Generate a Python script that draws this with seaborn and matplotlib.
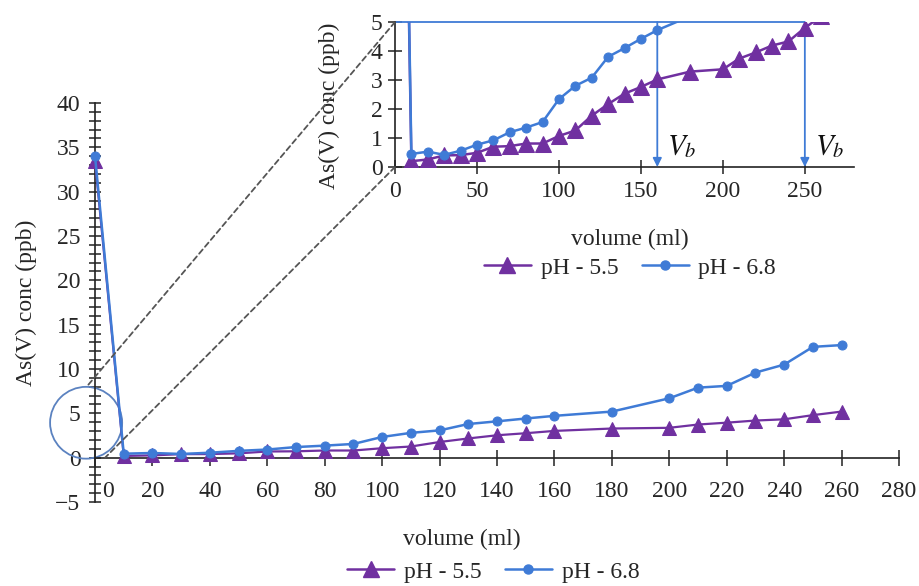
import numpy as np
import pandas as pd
import seaborn as sns
import matplotlib
matplotlib.use("Agg")
import matplotlib.pyplot as plt
from matplotlib.lines import Line2D
from matplotlib.patches import Ellipse, ConnectionPatch
from matplotlib.transforms import ScaledTranslation

# ---- data ----
volume = [0, 10, 20, 30, 40, 50, 60, 70, 80, 90, 100, 110, 120, 130, 140, 150,
          160, 180, 200, 210, 220, 230, 240, 250, 260]
ph55 = [33.5, 0.20, 0.26, 0.40, 0.41, 0.49, 0.70, 0.72, 0.81, 0.81, 1.07, 1.26,
        1.77, 2.17, 2.53, 2.76, 3.02, 3.29, 3.37, 3.74, 3.95, 4.19, 4.33, 4.80, 5.20]
ph68 = [34.0, 0.45, 0.53, 0.42, 0.56, 0.77, 0.92, 1.20, 1.36, 1.55, 2.34, 2.80,
        3.08, 3.80, 4.10, 4.42, 4.72, 5.20, 6.70, 7.90, 8.10, 9.60, 10.50, 12.50, 12.70]
series_labels = ["pH - 5.5", "pH - 6.8"]
vb_values = [160, 250]
main_xticks = list(range(0, 281, 20))
main_yticks = list(range(-5, 41, 5))
inset_xticks = list(range(0, 251, 50))
inset_yticks = list(range(0, 6, 1))

df = pd.DataFrame({"volume": volume, "ph55": ph55, "ph68": ph68})

PURPLE = "#7030a0"
BLUE = "#3f7bd6"
CIRCLE = "#5b82c0"

sns.set_theme(style="white")
plt.rcParams["font.family"] = ["Liberation Serif", "DejaVu Serif"]
plt.rcParams["mathtext.fontset"] = "stix"

FS = 17
fig = plt.figure(figsize=(9.19, 5.86), dpi=100)

# ---------------- main axes ----------------
ax = fig.add_axes([0.1034, 0.1433, 0.8749, 0.6809])
sns.lineplot(data=df, x="volume", y="ph55", ax=ax, color=PURPLE, marker="^",
             markersize=10, markeredgecolor=PURPLE, lw=1.6, legend=False, zorder=3)
sns.lineplot(data=df, x="volume", y="ph68", ax=ax, color=BLUE, marker="o",
             markersize=6.5, markeredgecolor=BLUE, lw=1.8, legend=False, zorder=4)
for ln in ax.lines:
    ln.set_clip_on(False)
ax.set_xlim(0, 280)
ax.set_ylim(-5, 40)
for s in ["top", "right"]:
    ax.spines[s].set_visible(False)
ax.spines["left"].set_position(("data", 0))
ax.spines["bottom"].set_position(("data", 0))
for s in ["left", "bottom"]:
    ax.spines[s].set_color("#222222")
    ax.spines[s].set_linewidth(1.2)
ax.set_xticks(main_xticks)
ax.set_xticklabels([str(v) for v in main_xticks])
ax.set_yticks(main_yticks)
ax.set_yticklabels([str(v).replace("-", "\u2212") for v in main_yticks])
ax.set_yticks(range(-5, 41, 1), minor=True)
ax.tick_params(axis="x", direction="inout", length=12, width=1.1, color="#222222",
               labelsize=FS, pad=11, bottom=True)
ax.tick_params(axis="y", which="both", direction="inout", length=9, width=1.1,
               color="#222222", labelsize=FS, pad=6, left=True)
ax.set_xlabel("volume (ml)", fontsize=FS)
ax.set_ylabel("As(V) conc (ppb)", fontsize=FS)
ax.xaxis.set_label_coords(0.4565, -0.068)
ax.yaxis.set_label_coords(-0.072, 0.50)
ax.grid(False)
ax.patch.set_alpha(0)

# nudge the "0" x tick label to the right of the axis
lab0 = ax.get_xticklabels()[0]
lab0.set_transform(lab0.get_transform() + ScaledTranslation(13 / 100, 0, fig.dpi_scale_trans))

# zoom circle
circ = Ellipse((-3.1, 3.94), width=25.1, height=8.1, fill=False, edgecolor=CIRCLE,
               lw=1.3, clip_on=False, zorder=2)
ax.add_patch(circ)

# ---------------- inset axes ----------------
ins = fig.add_axes([0.4298, 0.7150, 0.4995, 0.2474])
sns.lineplot(data=df, x="volume", y="ph55", ax=ins, color=PURPLE, marker="^",
             markersize=11, markeredgecolor=PURPLE, lw=1.8, legend=False, zorder=3)
sns.lineplot(data=df, x="volume", y="ph68", ax=ins, color=BLUE, marker="o",
             markersize=6.5, markeredgecolor=BLUE, lw=1.8, legend=False, zorder=4)
ins.set_xlim(0, 280)
ins.set_ylim(0, 5)
for s in ["top", "right"]:
    ins.spines[s].set_visible(False)
for s in ["left", "bottom"]:
    ins.spines[s].set_color("#222222")
    ins.spines[s].set_linewidth(1.2)
ins.set_xticks(inset_xticks)
ins.set_yticks(inset_yticks)
ins.tick_params(axis="both", direction="inout", length=10, width=1.1, color="#222222",
                labelsize=FS, bottom=True, left=True)
ins.tick_params(axis="x", pad=5)
ins.tick_params(axis="y", pad=4)
ins.set_xlabel("volume (ml)", fontsize=FS)
ins.set_ylabel("As(V) conc (ppb)", fontsize=FS)
ins.xaxis.set_label_coords(0.512, -0.43)
ins.yaxis.set_label_coords(-0.12, 0.42)
ins.grid(False)
ins.patch.set_alpha(0)

# breakthrough markers
ins.hlines(5, 0, max(vb_values), color=BLUE, lw=1.3, zorder=2, clip_on=False)
for vb in vb_values:
    ins.annotate("", xy=(vb, 0), xytext=(vb, 5),
                 arrowprops=dict(arrowstyle="-|>", color=BLUE, lw=1.3,
                                 mutation_scale=13, shrinkA=0, shrinkB=0),
                 zorder=2, annotation_clip=False)
    ins.text(vb + 6, 0.45, r"$V_b$", fontsize=21, color="#111111",
             ha="left", va="baseline")

# dashed connector lines
for (xa, ya), (xb, yb) in [((0, 5), (-2.4, 8.2)), ((0, 0), (3.5, 0))]:
    cp = ConnectionPatch(xyA=(xa, ya), coordsA="data", axesA=ins,
                         xyB=(xb, yb), coordsB="data", axesB=ax,
                         color="#555555", lw=1.3, linestyle=(0, (3, 2)), zorder=1)
    cp.set_annotation_clip(False)
    fig.add_artist(cp)

# legends
handles = [Line2D([], [], color=PURPLE, marker="^", markersize=11, lw=1.8),
           Line2D([], [], color=BLUE, marker="o", markersize=6.5, lw=1.8)]
fig.legend(handles, series_labels, loc="center", bbox_to_anchor=(0.6855, 0.5427),
           ncol=2, frameon=False, fontsize=FS, handlelength=2.0, columnspacing=1.0,
           handletextpad=0.4)
fig.legend(handles, series_labels, loc="center", bbox_to_anchor=(0.5365, 0.024),
           ncol=2, frameon=False, fontsize=FS, handlelength=2.0, columnspacing=1.0,
           handletextpad=0.4, borderpad=0.1)

fig.savefig("out.png", dpi=100)
